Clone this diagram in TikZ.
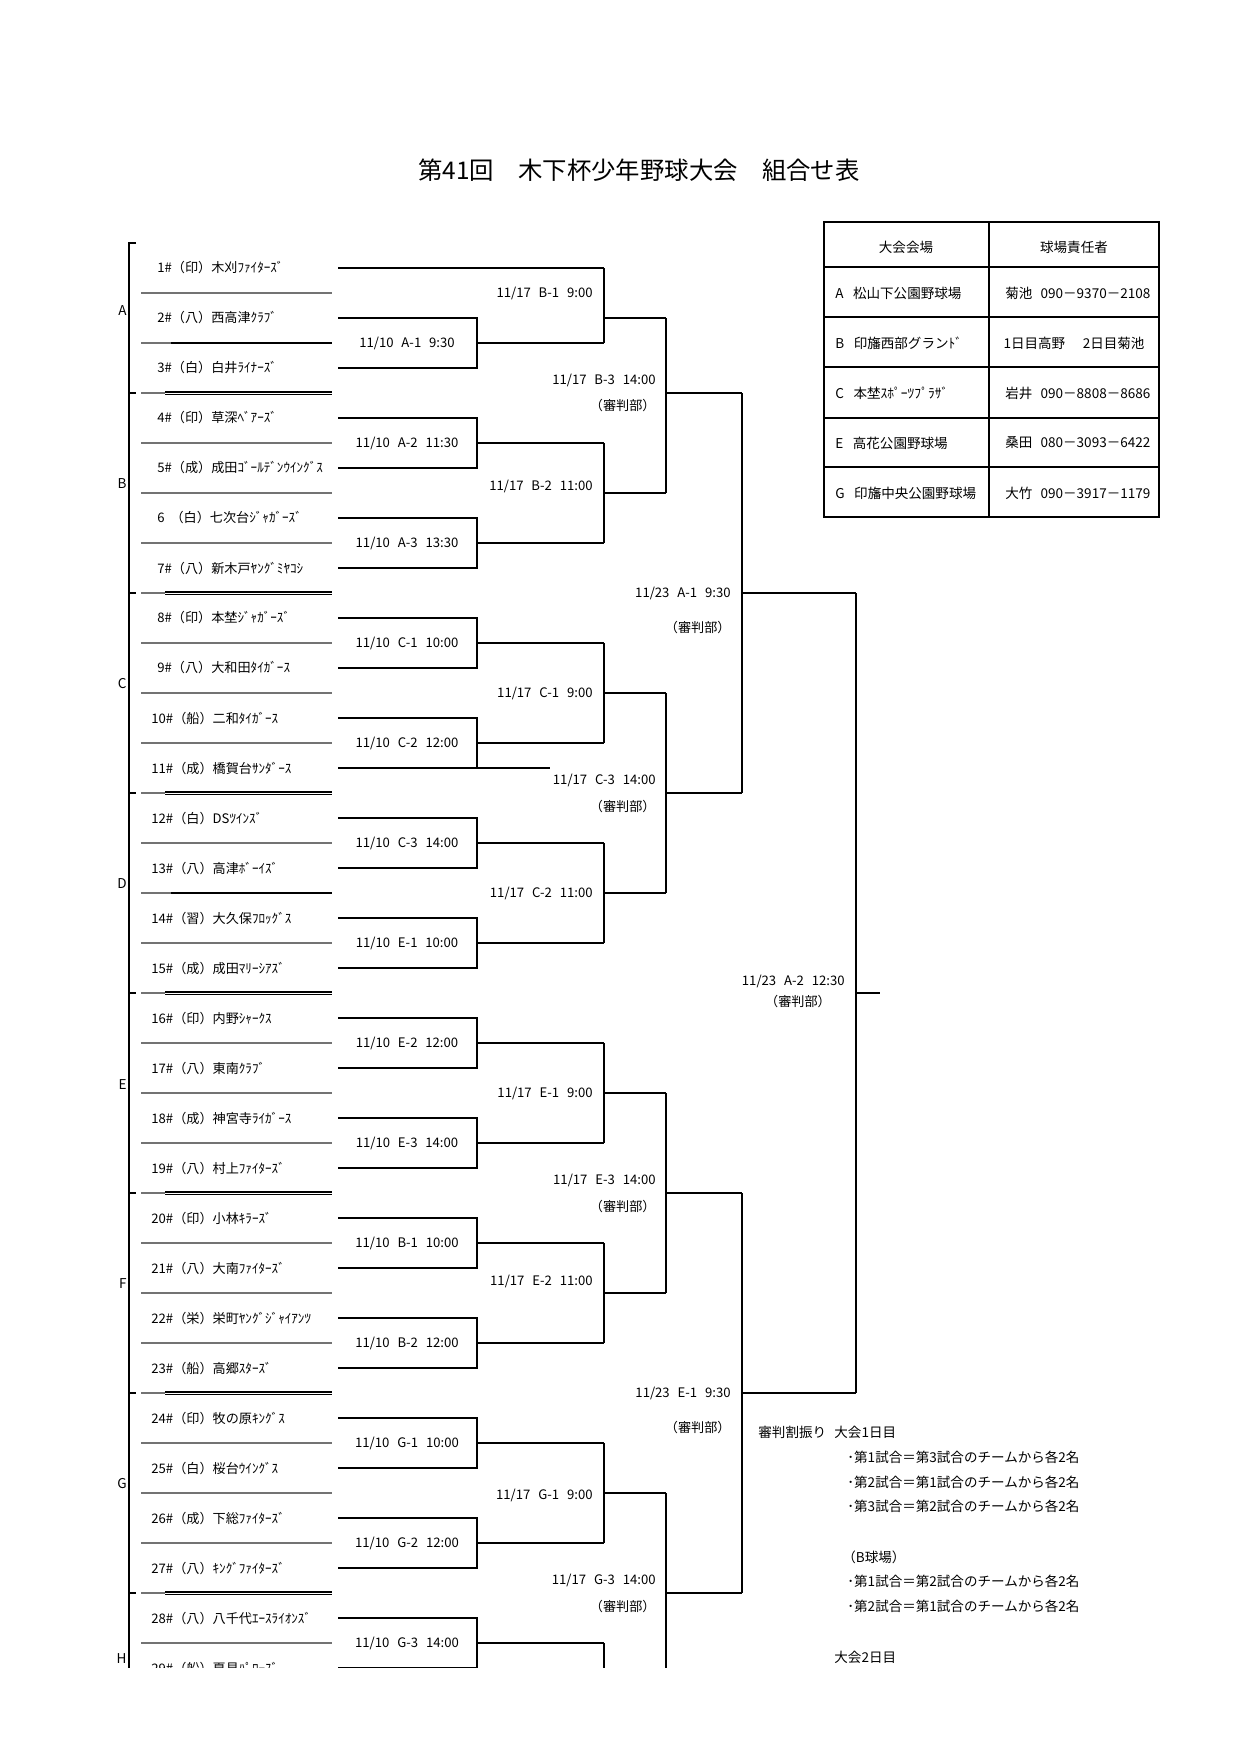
\documentclass[tikz,border=0pt]{standalone}
\usepackage{fontspec}
\setmainfont{Noto Sans CJK JP}
\newcommand\gp{\hspace{0.6em}}
\begin{document}
\begin{tikzpicture}[x=0.48pt,y=-0.48pt,
  brk/.style={line width=0.75pt},
  rowline/.style={line width=0.55pt,black!55},
  dbl/.style={double,line width=0.75pt,double distance=0.35pt},
  team/.style={anchor=west,inner sep=0pt,font=\fontsize{6.3}{7}\selectfont},
  lbl/.style={inner sep=0pt,font=\fontsize{6.3}{7}\selectfont},
  txt/.style={inner sep=0pt,font=\fontsize{6.5}{7}\selectfont},
  tbl/.style={line width=0.8pt}]
\useasboundingbox (0,0) rectangle (1240,1754);

% title
\node[inner sep=0pt,font=\fontsize{11.7}{13}\selectfont] (title) at (639,170) {第41回　木下杯少年野球大会　組合せ表};

% venue table
\draw[tbl] (824,222) rectangle (1159,517);
\draw[tbl] (989,222) -- (989,517);
\foreach \yy in {267,317,367,418,467} \draw[tbl] (824,\yy) -- (1159,\yy);
\node[txt] (h1) at (906,247) {大会会場};
\node[txt] (h2) at (1074,247) {球場責任者};
\node[txt,anchor=west] (va) at (835,293) {A\hspace{0.7em}松山下公園野球場};
\node[txt,anchor=west] (vb) at (835,343) {B\hspace{0.7em}印旛西部グランﾄﾞ};
\node[txt,anchor=west] (vc) at (835,393) {C\hspace{0.7em}本埜ｽﾎﾟｰﾂﾌﾟﾗｻﾞ};
\node[txt,anchor=west] (ve) at (835,443) {E\hspace{0.7em}高花公園野球場};
\node[txt,anchor=west] (vg) at (835,493) {G\hspace{0.7em}印旛中央公園野球場};
\node[txt,anchor=west] (pa) at (1005,293) {菊池\hspace{0.6em}090－9370－2108};
\node[txt] (pb) at (1074,343) {1日目高野\hspace{1.3em}2日目菊池};
\node[txt,anchor=west] (pc) at (1005,393) {岩井\hspace{0.6em}090－8808－8686};
\node[txt,anchor=west] (pe) at (1005,443) {桑田\hspace{0.6em}080－3093－6422};
\node[txt,anchor=west] (pg) at (1005,493) {大竹\hspace{0.6em}090－3917－1179};

% notes
\node[txt,anchor=west] (n0) at (758,1432) {審判割振り};
\node[txt,anchor=west] (n1) at (834,1432) {大会1日目};
\node[txt,anchor=west] (n2) at (847,1457) {･第1試合＝第3試合のチームから各2名};
\node[txt,anchor=west] (n3) at (847,1482) {･第2試合＝第1試合のチームから各2名};
\node[txt,anchor=west] (n4) at (847,1506) {･第3試合＝第2試合のチームから各2名};
\node[txt,anchor=west] (n5) at (842,1557) {（B球場）};
\node[txt,anchor=west] (n6) at (847,1581) {･第1試合＝第2試合のチームから各2名};
\node[txt,anchor=west] (n7) at (847,1606) {･第2試合＝第1試合のチームから各2名};
\node[txt,anchor=west] (n8) at (834,1657) {大会2日目};

\begin{scope}
\clip (0,0) rectangle (1240,1667);
% left bracket and group letters
\draw[brk] (136,243) -- (129,243) -- (129,1700);
\foreach \yy in {393,593,793,993,1193,1393,1593} \draw[brk] (129,\yy) -- (136,\yy);
\foreach \g/\yy in {A/311,B/484,C/684,D/884,E/1085,F/1284,G/1484,H/1659}
  \node[txt,anchor=east] (g\g) at (127,\yy) {\g};

% row lines
\foreach \yy in {293,443,493,543,643,693,743,843,943,1043,1093,1143,1243,1293,1343,1443,1493,1543,1643}
  \draw[rowline] (141,\yy) -- (332,\yy);
\foreach \yy in {343,893} {
  \draw[rowline] (141,\yy) -- (171,\yy);
  \draw[brk] (171,\yy) -- (332,\yy);
}
\foreach \yy in {393,593,793,993,1193,1393,1593} {
  \draw[rowline] (141,\yy) -- (165,\yy);
  \draw[dbl] (165,\yy) -- (332,\yy);
}

% teams
\foreach \i/\nm in {
 1/{1\#（印）木刈ﾌｧｲﾀｰｽﾞ},
 2/{2\#（八）西高津ｸﾗﾌﾞ},
 3/{3\#（白）白井ﾗｲﾅｰｽﾞ},
 4/{4\#（印）草深ﾍﾞｱｰｽﾞ},
 5/{5\#（成）成田ｺﾞｰﾙﾃﾞﾝｳｲﾝｸﾞｽ},
 6/{6\hspace{0.45em}（白）七次台ｼﾞｬｶﾞｰｽﾞ},
 7/{7\#（八）新木戸ﾔﾝｸﾞﾐﾔｺｼ},
 8/{8\#（印）本埜ｼﾞｬｶﾞｰｽﾞ},
 9/{9\#（八）大和田ﾀｲｶﾞｰｽ},
 10/{10\#（船）二和ﾀｲｶﾞｰｽ},
 11/{11\#（成）橋賀台ｻﾝﾀﾞｰｽ},
 12/{12\#（白）DSﾂｲﾝｽﾞ},
 13/{13\#（八）高津ﾎﾞｰｲｽﾞ},
 14/{14\#（習）大久保ﾌﾛｯｸﾞｽ},
 15/{15\#（成）成田ﾏﾘｰｼｱｽﾞ},
 16/{16\#（印）内野ｼｬｰｸｽ},
 17/{17\#（八）東南ｸﾗﾌﾞ},
 18/{18\#（成）神宮寺ﾗｲｶﾞｰｽ},
 19/{19\#（八）村上ﾌｧｲﾀｰｽﾞ},
 20/{20\#（印）小林ｷﾗｰｽﾞ},
 21/{21\#（八）大南ﾌｧｲﾀｰｽﾞ},
 22/{22\#（栄）栄町ﾔﾝｸﾞｼﾞｬｲｱﾝﾂ},
 23/{23\#（船）高郷ｽﾀｰｽﾞ},
 24/{24\#（印）牧の原ｷﾝｸﾞｽ},
 25/{25\#（白）桜台ｳｲﾝｸﾞｽ},
 26/{26\#（成）下総ﾌｧｲﾀｰｽﾞ},
 27/{27\#（八）ｷﾝｸﾞﾌｧｲﾀｰｽﾞ},
 28/{28\#（八）八千代ｴｰｽﾗｲｵﾝｽﾞ},
 29/{29\#（船）夏見ﾊﾟﾛｰｽﾞ}} {
  \pgfmathsetmacro\tx{\i<10 ? 157 : 151}
  \pgfmathsetmacro\ty{268+(\i-1)*50}
  \node[team] (t\i) at (\tx,\ty) {\nm};
}

% round 1 (11/10)
\draw[brk] (338,268) -- (604,268);
\foreach \a/\lab in {318/{A-1\gp 9:30},418/{A-2\gp 11:30},518/{A-3\gp 13:30},
  618/{C-1\gp 10:00},718/{C-2\gp 12:00},818/{C-3\gp 14:00},918/{E-1\gp 10:00},
  1018/{E-2\gp 12:00},1118/{E-3\gp 14:00},1218/{B-1\gp 10:00},1318/{B-2\gp 12:00},
  1418/{G-1\gp 10:00},1518/{G-2\gp 12:00},1618/{G-3\gp 14:00},1718/{}} {
  \draw[brk] (338,\a) -- (477,\a) -- (477,{\a+50}) -- (338,{\a+50});
  \draw[brk] (477,{\a+25}) -- (604,{\a+25});
  \node[lbl] (r1\a) at (407,{\a+25}) {11/10\gp\lab};
}
\draw[brk] (477,768) -- (550,768);

% round 2 (11/17)
\foreach \ya/\yb/\yo/\ly/\lab in {268/343/318/293/{B-1\gp 9:00},443/543/493/486/{B-2\gp 11:00},
  643/743/693/693/{C-1\gp 9:00},843/943/893/893/{C-2\gp 11:00},
  1043/1143/1093/1093/{E-1\gp 9:00},1243/1343/1293/1281/{E-2\gp 11:00},
  1443/1543/1493/1495/{G-1\gp 9:00}} {
  \draw[brk] (604,\ya) -- (604,\yb);
  \draw[brk] (604,\yo) -- (666,\yo);
  \node[lbl,anchor=east] (r2\yo) at (593,\ly) {11/17\gp\lab};
}
\draw[brk] (604,1643) -- (604,1743);

% round 3 (11/17)
\foreach \ya/\yb/\yo/\lab in {318/493/393/{B-3\gp 14:00},693/893/793/{C-3\gp 14:00},
  1093/1293/1193/{E-3\gp 14:00},1493/1693/1593/{G-3\gp 14:00}} {
  \draw[brk] (666,\ya) -- (666,\yb);
  \draw[brk] (666,\yo) -- (742,\yo);
  \node[lbl,anchor=east] (r3\yo) at (656,{\yo-13}) {11/17\gp\lab};
  \node[lbl,anchor=east] (s3\yo) at (656,{\yo+13}) {（審判部）};
}

% round 4 (11/23)
\foreach \ya/\yb/\yo/\lab in {393/793/593/{A-1\gp 9:30},1193/1593/1393/{E-1\gp 9:30}} {
  \draw[brk] (742,\ya) -- (742,\yb);
  \draw[brk] (742,\yo) -- (856,\yo);
  \node[lbl,anchor=east] (r4\yo) at (731,\yo) {11/23\gp\lab};
  \node[lbl,anchor=east] (s4\yo) at (731,{\yo+34}) {（審判部）};
}

% final
\draw[brk] (856,593) -- (856,1393);
\draw[brk] (856,993) -- (880,993);
\node[lbl,anchor=east] (fin) at (845,981) {11/23\gp A-2\gp 12:30};
\node[lbl] (fins) at (798,1001) {（審判部）};
\end{scope}
\end{tikzpicture}
\end{document}
